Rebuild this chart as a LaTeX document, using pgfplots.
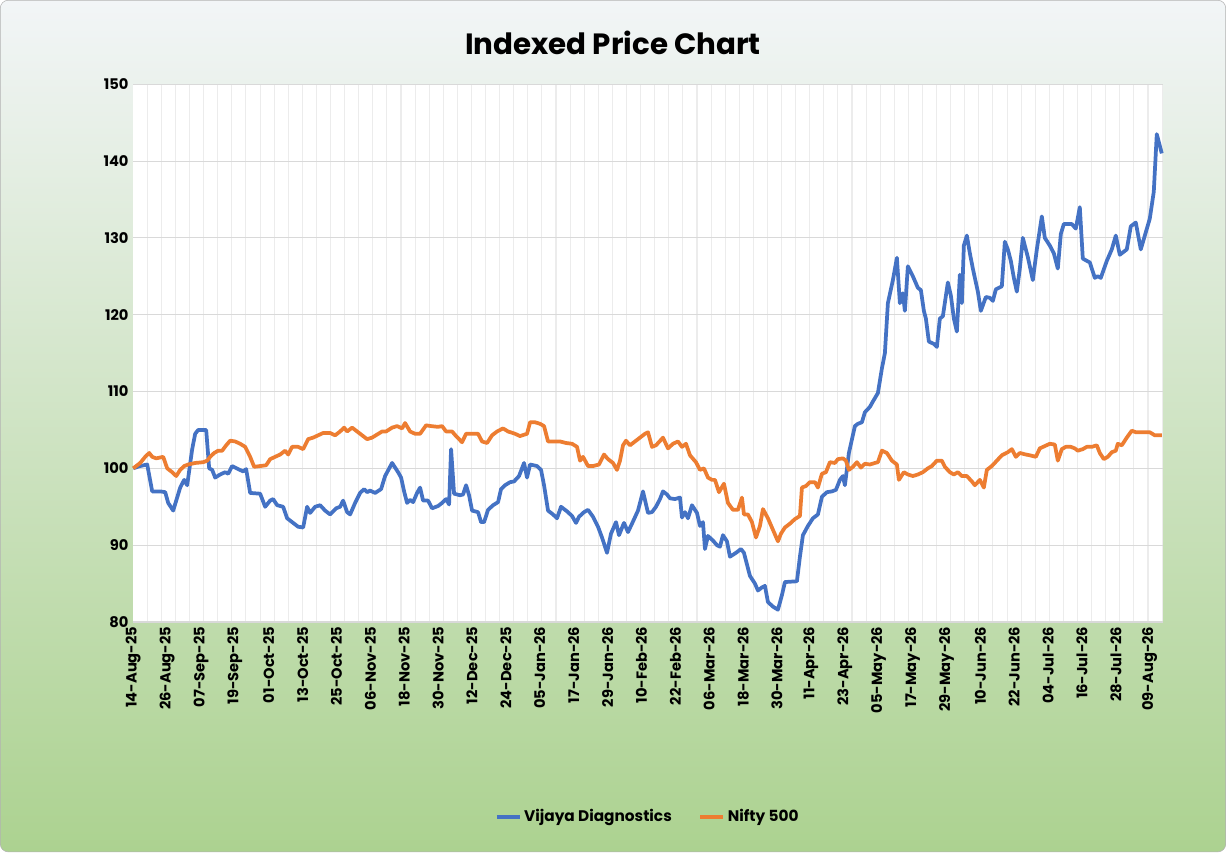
\documentclass[border=0pt]{standalone}
\usepackage{pgfplots}
\pgfplotsset{compat=1.18}
\usepackage{fontspec}
\setmainfont{Poppins}
\definecolor{vblue}{HTML}{4472C4}
\definecolor{norange}{HTML}{ED7D31}
\definecolor{bggreen}{RGB}{172,210,144}
\definecolor{bgtop}{RGB}{242,245,247}
\begin{document}
\begin{tikzpicture}
\shade[top color=bgtop, middle color=bgtop!70!bggreen!40, bottom color=bggreen, rounded corners=6pt, draw=gray!60] (0,0) rectangle (919.5pt,639pt);
\node[font=\bfseries\fontsize{22}{26}\selectfont] at (459.75pt,607pt) {Indexed Price Chart};
\begin{axis}[at={(99.75pt,172.5pt)}, anchor=south west, scale only axis,
 width=772.5pt, height=403.5pt,
 axis background/.style={fill=white},
 xmin=133, xmax=1163, ymin=80, ymax=150,
 ytick={80,90,...,150},
 xtick={133,166.9,...,1151},
 xticklabels={14-Aug-25,26-Aug-25,07-Sep-25,19-Sep-25,01-Oct-25,13-Oct-25,25-Oct-25,06-Nov-25,18-Nov-25,30-Nov-25,12-Dec-25,24-Dec-25,05-Jan-26,17-Jan-26,29-Jan-26,10-Feb-26,22-Feb-26,06-Mar-26,18-Mar-26,30-Mar-26,11-Apr-26,23-Apr-26,05-May-26,17-May-26,29-May-26,10-Jun-26,22-Jun-26,04-Jul-26,16-Jul-26,28-Jul-26,09-Aug-26},
 minor xtick={147.1,161.2,...,1163},
 xminorgrids, ymajorgrids,
 grid style={gray!30, line width=0.8pt},
 minor grid style={gray!15, line width=0.8pt},
 axis line style={draw=none},
 major tick length=0pt, minor tick length=0pt,
 x tick label style={rotate=90, anchor=east, font=\bfseries\fontsize{11}{13}\selectfont},
 y tick label style={font=\bfseries\fontsize{11}{13}\selectfont},
 /pgf/number format/assume math mode=true,
 legend columns=2,
 legend style={at={(0.5,-0.362)}, anchor=center, draw=none, fill=none, font=\bfseries\fontsize{11.5}{13}\selectfont, /tikz/every even column/.append style={column sep=18pt}},
 legend image post style={line width=3pt},
 clip=false,
]
\addplot[vblue, line width=2.8pt, line join=round] coordinates {
(133,100)(140,100.3)(147,100.5)(152,97)(160,97)(165,96.9)(168,95.5)(173,94.5)(180,97.5)(184,98.5)(187,97.8)(192,102.5)(195,104.5)(198,105)(206,105)(209,100)(212,99.8)(215,98.8)(220,99.2)(225,99.5)(228,99.3)(232,100.3)(238,99.9)(243,99.6)(246,99.9)(250,96.8)(260,96.7)(265,95)(270,95.8)(273,96)(277,95.2)(283,95)(287,93.5)(292,93)(298,92.4)(303,92.3)(307,95)(310,94.2)(315,95)(320,95.2)(325,94.5)(330,94)(336,94.8)(340,95)(343,95.8)(347,94.3)(350,94)(355,95.5)(360,96.8)(364,97.3)(367,96.9)(370,97.1)(375,96.8)(381,97.3)(385,99)(392,100.7)(398,99.5)(401,98.8)(404,97)(407,95.5)(410,95.9)(413,95.6)(417,96.8)(420,97.5)(423,95.8)(428,95.8)(432,94.8)(438,95.1)(442,95.5)(446,96)(449,95.3)(451,102.5)(454,96.7)(460,96.5)(463,96.6)(466,97.8)(469,96.5)(472,94.5)(478,94.3)(481,93)(484,93)(488,94.6)(493,95.2)(498,95.6)(501,97.3)(505,97.8)(510,98.2)(514,98.3)(519,99)(524,100.7)(527,98.8)(530,100.5)(537,100.3)(541,99.8)(544,97.8)(548,94.5)(553,94)(557,93.5)(561,95)(567,94.4)(572,93.8)(576,92.9)(579,93.7)(584,94.3)(588,94.6)(593,93.7)(598,92.4)(602,91)(607,89)(611,91.5)(616,93)(619,91.3)(624,92.9)(628,91.7)(632,92.8)(638,94.5)(643,97)(648,94.2)(652,94.3)(656,95)(660,96)(663,97)(667,96.6)(670,96.1)(675,96)(680,96.2)(682,93.6)(685,94.3)(688,93.5)(692,95.2)(697,94.2)(700,92.5)(703,93)(705,89.5)(708,91.2)(713,90.6)(717,90)(720,89.8)(723,91.3)(727,90.5)(730,88.5)(736,89)(741,89.5)(744,89)(747,87.5)(750,86)(755,85)(758,84.1)(762,84.5)(765,84.7)(768,82.6)(773,82)(778,81.6)(782,83.5)(785,85.2)(797,85.3)(800,88.5)(803,91.3)(808,92.5)(813,93.5)(818,94)(822,96.3)(827,96.9)(832,97)(836,97.2)(840,98.5)(843,99)(845,97.8)(849,102)(855,105.5)(858,105.8)(862,106)(865,107.3)(870,108)(873,108.7)(878,109.8)(882,113)(885,115)(888,121.5)(893,124.5)(897,127.4)(900,121.5)(903,122.8)(905,120.5)(908,126.3)(913,125)(918,123.5)(921,123.2)(924,120.5)(926,119.5)(929,116.5)(934,116.2)(937,115.8)(940,119.5)(943,119.8)(948,124.2)(951,122.5)(954,119.5)(957,117.8)(960,125.2)(962,121.5)(964,129)(967,130.3)(970,128)(973,126)(978,123)(981,120.5)(986,122.3)(990,122.2)(993,121.8)(996,123.3)(1002,123.7)(1005,129.5)(1008,128.5)(1011,127)(1014,124.8)(1017,123)(1020,126)(1023,130)(1028,127.5)(1033,124.5)(1037,128.5)(1042,132.8)(1045,130)(1050,129)(1054,128)(1058,126)(1061,130.5)(1064,131.8)(1072,131.8)(1076,131.2)(1080,134)(1083,127.3)(1090,126.8)(1095,124.8)(1098,125)(1101,124.8)(1107,127)(1112,128.5)(1116,130.3)(1120,127.8)(1127,128.5)(1131,131.5)(1136,132)(1141,128.5)(1150,132.5)(1154,136)(1157,143.5)(1162,141)
};
\addlegendentry{Vijaya Diagnostics}
\addplot[norange, line width=2.8pt, line join=round] coordinates {
(133,100)(140,100.7)(145,101.5)(149,102)(152,101.5)(156,101.3)(163,101.5)(167,100)(172,99.5)(176,99)(180,99.8)(184,100.3)(188,100.5)(195,100.7)(203,100.8)(207,101)(210,101.5)(214,102)(218,102.3)(222,102.3)(226,103)(230,103.6)(235,103.5)(240,103.2)(245,102.8)(250,101.5)(254,100.2)(260,100.3)(266,100.4)(270,101.2)(275,101.5)(280,101.8)(285,102.3)(288,101.8)(292,102.8)(298,102.8)(303,102.5)(308,103.8)(313,104)(318,104.3)(323,104.6)(330,104.6)(335,104.3)(340,104.8)(344,105.3)(347,104.8)(352,105.3)(357,104.8)(362,104.3)(367,103.8)(372,104)(377,104.4)(382,104.8)(386,104.8)(392,105.3)(397,105.5)(402,105.2)(405,105.9)(410,104.8)(415,104.5)(420,104.5)(426,105.6)(431,105.5)(438,105.4)(442,105.5)(446,104.8)(452,104.8)(456,104.2)(462,103.4)(466,104.5)(472,104.5)(478,104.5)(482,103.5)(487,103.3)(492,104.3)(497,104.8)(503,105.2)(508,104.8)(515,104.5)(520,104.2)(527,104.5)(530,106)(535,106)(540,105.8)(544,105.5)(548,103.5)(554,103.5)(560,103.5)(566,103.3)(572,103.2)(577,102.8)(580,101)(583,101.5)(588,100.3)(593,100.3)(599,100.5)(604,101.8)(608,101.2)(613,100.7)(617,99.8)(620,101)(623,103)(626,103.6)(630,103)(635,103.5)(640,104)(645,104.5)(648,104.7)(652,102.8)(656,103)(663,104)(668,102.6)(673,103.2)(678,103.5)(682,102.8)(686,103.2)(690,101.7)(696,100.8)(700,99.8)(704,100)(708,98.8)(712,98.5)(715,98.5)(719,96.9)(724,98)(728,95.5)(733,94.6)(738,94.6)(742,96.2)(744,94)(748,94)(752,93)(756,91)(760,92.5)(763,94.7)(768,93.5)(773,92)(778,90.5)(781,91.5)(785,92.3)(790,92.8)(795,93.4)(800,93.8)(802,97.5)(806,97.7)(810,98.2)(815,98.2)(818,97.5)(822,99.3)(826,99.5)(830,100.8)(835,100.7)(838,101.2)(843,101.3)(846,101)(849,99.8)(853,100.2)(857,100.8)(861,100.1)(865,100.6)(870,100.5)(875,100.7)(878,100.8)(882,102.3)(887,102)(892,101)(897,100.5)(899,98.5)(904,99.5)(908,99.2)(913,99)(918,99.2)(923,99.5)(928,100)(932,100.3)(937,101)(942,101)(945,100.2)(950,99.5)(954,99.2)(958,99.5)(962,99)(967,99)(972,98.3)(975,97.8)(980,98.5)(984,97.5)(987,99.8)(992,100.3)(997,101)(1002,101.7)(1008,102.1)(1012,102.5)(1016,101.5)(1020,102)(1026,101.8)(1030,101.7)(1036,101.5)(1040,102.6)(1045,102.9)(1050,103.2)(1055,103.1)(1058,101)(1062,102.5)(1066,102.8)(1071,102.8)(1075,102.6)(1078,102.3)(1083,102.5)(1087,102.8)(1092,102.8)(1097,103)(1100,102)(1104,101.2)(1108,101.5)(1112,102.1)(1116,102.3)(1118,103.2)(1122,103)(1127,104)(1132,104.9)(1136,104.7)(1140,104.7)(1145,104.7)(1150,104.7)(1155,104.3)(1162,104.3)
};
\addlegendentry{Nifty 500}
\end{axis}
\end{tikzpicture}
\end{document}
